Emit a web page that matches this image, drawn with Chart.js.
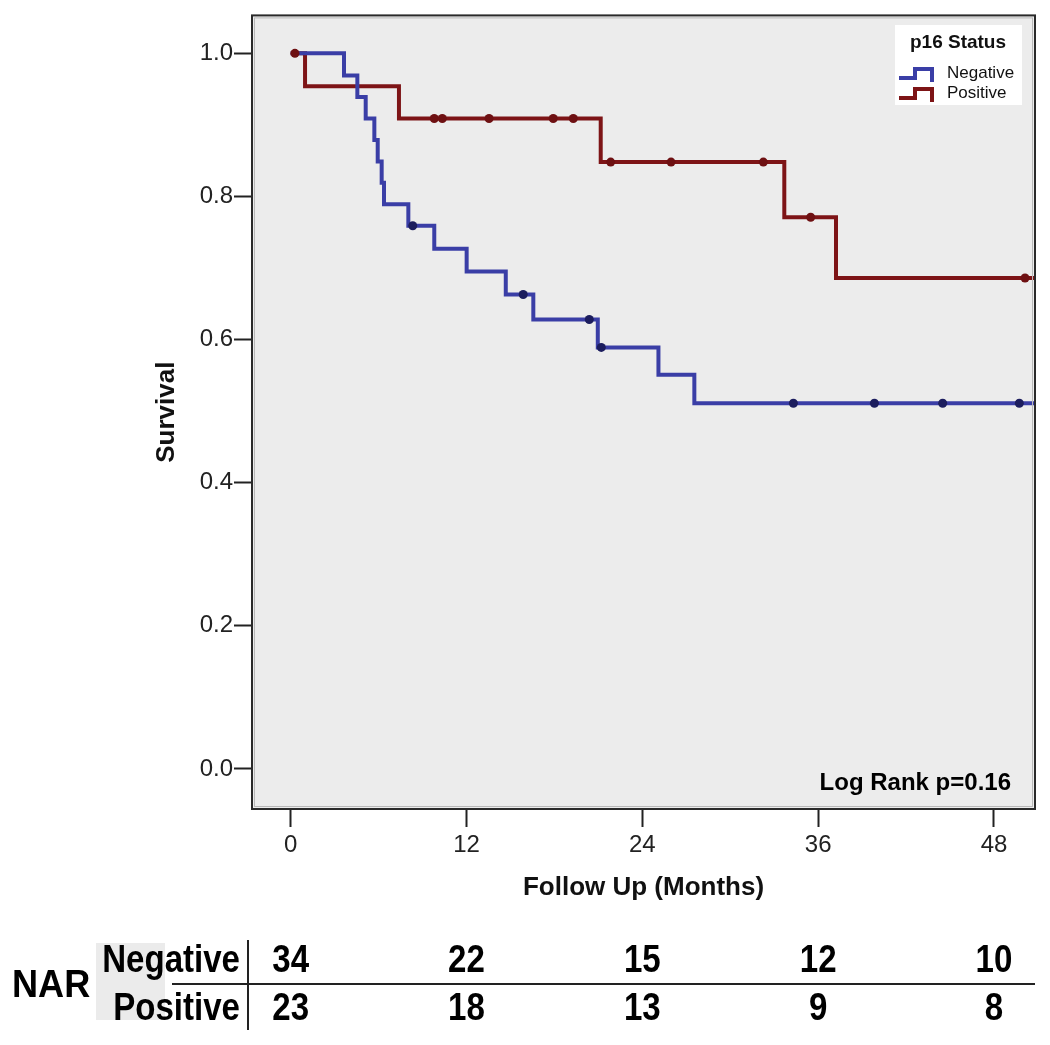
<!DOCTYPE html>
<html><head><meta charset="utf-8">
<script src="https://cdn.jsdelivr.net/npm/chart.js@4.4.1/dist/chart.umd.min.js"></script>
<style>html,body{margin:0;padding:0;background:#fff;} #wrap{width:1050px;height:1045px;position:relative;}</style>
</head><body><div id="wrap"><canvas id="c" width="1050" height="1045"></canvas></div>
<script>
// ---- data ----
const xTicks = [0, 12, 24, 36, 48];
const yTicks = [0, 0.2, 0.4, 0.6, 0.8, 1.0];
const groups = ['Negative', 'Positive'];
const legendTitle = 'p16 Status';
const negEventTimes = [0, 3.64, 4.55, 5.12, 5.71, 5.94, 6.21, 6.37, 8.03, 9.80, 12.01, 14.68, 16.56, 20.96, 25.1, 27.55, 51];
const negSurvival   = [1, 0.969, 0.939, 0.909, 0.879, 0.849, 0.819, 0.789, 0.759, 0.727, 0.695, 0.663, 0.628, 0.589, 0.551, 0.511, 0.511];
const negCensorTimes = [8.33, 15.87, 20.38, 21.2, 34.31, 39.84, 44.5, 49.73];
const posEventTimes = [0, 0.98, 7.39, 21.16, 33.69, 37.22, 51];
const posSurvival   = [1, 0.954, 0.909, 0.848, 0.771, 0.686, 0.686];
const posCensorTimes = [0.29, 9.80, 10.35, 13.54, 17.92, 19.29, 21.84, 25.96, 32.26, 35.49, 50.12];
const narLabel = 'NAR';
const narNegative = [34, 22, 15, 12, 10];
const narPositive = [23, 18, 13, 9, 8];
const logRankText = 'Log Rank p=0.16';

const FAM = 'Liberation Sans, Arial, Helvetica, sans-serif';
const BLUE = '#3a3ea6', BLUE_DOT = '#1c1d5e';
const RED = '#7d1416', RED_DOT = '#6e1012';

function stepPoints(times, surv) { return times.map((t, i) => ({x: t, y: surv[i]})); }
function survAt(times, surv, t) { let s = surv[0]; for (let i = 0; i < times.length; i++) { if (times[i] <= t) s = surv[i]; } return s; }
function censorPoints(ct, times, surv) { return ct.map(t => ({x: t, y: survAt(times, surv, t)})); }

const bgPlugin = {
  id: 'bg',
  beforeDatasetsDraw(chart) {
    const {ctx, chartArea: a} = chart;
    ctx.save(); ctx.fillStyle = '#ececec';
    ctx.fillRect(a.left, a.top, a.right - a.left, a.bottom - a.top);
    ctx.restore();
  },
  afterDraw(chart) {
    const {ctx, chartArea: a} = chart;
    ctx.save();
    // frame
    ctx.strokeStyle = '#b8b8b8'; ctx.lineWidth = 1;
    ctx.strokeRect(a.left + 2.5, a.top + 2.5, a.right - a.left - 5, a.bottom - a.top - 5);
    ctx.strokeStyle = '#2a2a2a'; ctx.lineWidth = 2;
    ctx.strokeRect(a.left, a.top, a.right - a.left, a.bottom - a.top);

    // legend
    const lx = 895, ly = 25, lw = 127, lh = 80;
    ctx.fillStyle = '#ffffff'; ctx.fillRect(lx, ly, lw, lh);
    ctx.fillStyle = '#111'; ctx.textBaseline = 'middle'; ctx.textAlign = 'center';
    ctx.font = 'bold 19px ' + FAM;
    ctx.fillText(legendTitle, lx + 63, ly + 18);
    const cols = [BLUE, RED];
    groups.forEach((g, i) => {
      const cy = ly + 48 + i * 20;
      ctx.strokeStyle = cols[i]; ctx.lineWidth = 4; ctx.lineJoin = 'miter'; ctx.lineCap = 'butt';
      ctx.beginPath();
      ctx.moveTo(lx + 4, cy + 5); ctx.lineTo(lx + 20, cy + 5); ctx.lineTo(lx + 20, cy - 4);
      ctx.lineTo(lx + 37, cy - 4); ctx.lineTo(lx + 37, cy + 9);
      ctx.stroke();
      ctx.fillStyle = '#111'; ctx.textAlign = 'left'; ctx.font = '17px ' + FAM;
      ctx.fillText(g, lx + 52, cy);
    });

    // log rank text
    ctx.font = 'bold 24px ' + FAM; ctx.textAlign = 'right'; ctx.textBaseline = 'alphabetic';
    ctx.fillStyle = '#000';
    ctx.fillText(logRankText, 1011, 790);

    // NAR table
    const xs = chart.scales.x;
    const r1 = 962, r2 = 1010;
    ctx.fillStyle = '#ebebeb'; ctx.fillRect(96, 943, 69, 77);
    ctx.strokeStyle = '#222'; ctx.lineWidth = 2;
    ctx.beginPath(); ctx.moveTo(172, 984); ctx.lineTo(1035, 984); ctx.stroke();
    ctx.beginPath(); ctx.moveTo(248, 940); ctx.lineTo(248, 1030); ctx.stroke();
    ctx.fillStyle = '#000'; ctx.textBaseline = 'middle';
    ctx.font = 'bold 38px ' + FAM;
    function txt(s, x, y, align, sx) {
      ctx.save(); ctx.translate(x, y); ctx.scale(sx, 1); ctx.textAlign = align; ctx.fillText(s, 0, 0); ctx.restore();
    }
    txt(narLabel, 12, 987, 'left', 0.95);
    txt(groups[0], 240, r1, 'right', 0.87);
    txt(groups[1], 240, r2, 'right', 0.87);
    xTicks.forEach((t, i) => {
      const px = xs.getPixelForValue(t);
      txt(String(narNegative[i]), px, r1, 'center', 0.87);
      txt(String(narPositive[i]), px, r2, 'center', 0.87);
    });
    ctx.restore();
  }
};

new Chart(document.getElementById('c'), {
  type: 'line',
  data: {
    datasets: [
      {label: groups[0], data: stepPoints(negEventTimes, negSurvival), borderColor: BLUE, borderWidth: 4, stepped: 'before', pointRadius: 0, fill: false, order: 2},
      {label: groups[1], data: stepPoints(posEventTimes, posSurvival), borderColor: RED, borderWidth: 4, stepped: 'before', pointRadius: 0, fill: false, order: 3},
      {label: groups[0] + ' censored', data: censorPoints(negCensorTimes, negEventTimes, negSurvival), showLine: false, pointRadius: 4.5, pointBackgroundColor: BLUE_DOT, pointBorderWidth: 0, order: 0},
      {label: groups[1] + ' censored', data: censorPoints(posCensorTimes, posEventTimes, posSurvival), showLine: false, pointRadius: 4.5, pointBackgroundColor: RED_DOT, pointBorderWidth: 0, order: 1}
    ]
  },
  options: {
    responsive: false, animation: false, devicePixelRatio: 1,
    layout: {padding: {left: 0, top: 15, right: 15, bottom: 136}},
    plugins: {legend: {display: false}, tooltip: {enabled: false}},
    scales: {
      x: {
        type: 'linear', min: -2.64, max: 50.8,
        afterBuildTicks: s => { s.ticks = xTicks.map(v => ({value: v})); },
        afterFit: s => { s.height = 100; },
        grid: {drawOnChartArea: false, drawTicks: true, tickLength: 18, tickWidth: 2, tickColor: '#222'},
        border: {display: false},
        ticks: {font: {family: FAM, size: 24}, color: '#222', padding: 4, maxRotation: 0, autoSkip: false, callback: v => String(v)},
        title: {display: true, text: 'Follow Up (Months)', font: {family: FAM, size: 26, weight: 'bold'}, color: '#111', padding: {top: 0, bottom: 6}}
      },
      y: {
        type: 'linear', min: -0.056, max: 1.053,
        afterBuildTicks: s => { s.ticks = yTicks.map(v => ({value: v})); },
        afterFit: s => { s.width = 252; },
        grid: {drawOnChartArea: false, drawTicks: true, tickLength: 18, tickWidth: 2, tickColor: '#222'},
        border: {display: false},
        ticks: {font: {family: FAM, size: 24}, color: '#222', padding: 1, callback: v => Number(v).toFixed(1)},
        title: {display: true, text: 'Survival', font: {family: FAM, size: 26, weight: 'bold'}, color: '#111', padding: {top: 151, bottom: 0}}
      }
    }
  },
  plugins: [bgPlugin]
});
</script>
</body></html>
